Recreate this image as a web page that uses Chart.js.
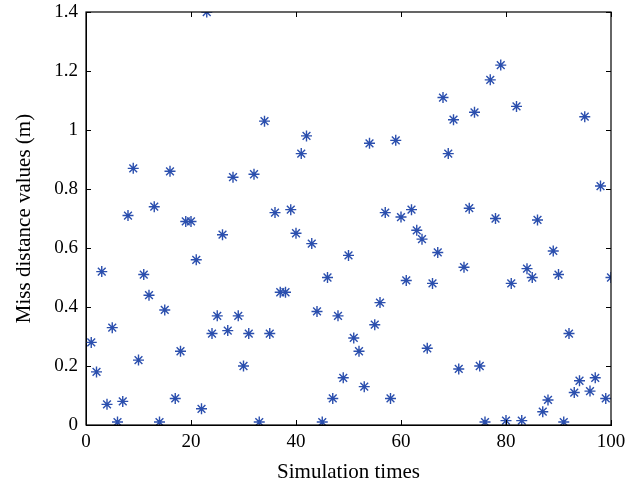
<!DOCTYPE html>
<html>
<head>
<meta charset="utf-8">
<script src="https://cdn.jsdelivr.net/npm/chart.js@4"></script>
<style>
  html, body { margin: 0; padding: 0; background: #fff; }
  #wrap { width: 639px; height: 485px; }
</style>
</head>
<body>
<div id="wrap"><canvas id="chart" width="639" height="485"></canvas></div>
<script>
// miss distance per simulation run (x = 1..100)
const runs = Array.from({ length: 100 }, (_, i) => i + 1);
const missDistance = [
  0.28, 0.18, 0.52, 0.07, 0.33, 0.01, 0.08, 0.71, 0.87, 0.22,
  0.51, 0.44, 0.74, 0.01, 0.39, 0.86, 0.09, 0.25, 0.69, 0.69,
  0.56, 0.055, 1.40, 0.31, 0.37, 0.645, 0.32, 0.84, 0.37, 0.20,
  0.31, 0.85, 0.01, 1.03, 0.31, 0.72, 0.45, 0.45, 0.73, 0.65,
  0.92, 0.98, 0.615, 0.385, 0.01, 0.50, 0.09, 0.37, 0.16, 0.575,
  0.295, 0.25, 0.13, 0.955, 0.34, 0.415, 0.72, 0.09, 0.965, 0.705,
  0.49, 0.73, 0.66, 0.63, 0.26, 0.48, 0.585, 1.11, 0.92, 1.035,
  0.19, 0.535, 0.735, 1.06, 0.20, 0.01, 1.17, 0.70, 1.22, 0.015,
  0.48, 1.08, 0.015, 0.53, 0.50, 0.695, 0.045, 0.085, 0.59, 0.51,
  0.01, 0.31, 0.11, 0.15, 1.045, 0.115, 0.16, 0.81, 0.09, 0.50
];
const xTicks = [0, 20, 40, 60, 80, 100];
const yTicks = [0, 0.2, 0.4, 0.6, 0.8, 1, 1.2, 1.4];

const font = "'Liberation Serif', 'Times New Roman', serif";

// MATLAB-style inward ticks on all four sides plus a closed box
const innerTicks = {
  id: 'innerTicks',
  afterDraw(chart) {
    const { ctx, chartArea: a, scales } = chart;
    const len = 5;
    ctx.save();
    ctx.strokeStyle = '#000';
    ctx.lineWidth = 1;
    ctx.beginPath();
    xTicks.forEach(v => {
      const px = Math.round(scales.x.getPixelForValue(v)) + 0.5;
      ctx.moveTo(px, a.bottom); ctx.lineTo(px, a.bottom - len);
      ctx.moveTo(px, a.top); ctx.lineTo(px, a.top + len);
    });
    yTicks.forEach(v => {
      const py = Math.round(scales.y.getPixelForValue(v)) + 0.5;
      ctx.moveTo(a.left, py); ctx.lineTo(a.left + len, py);
      ctx.moveTo(a.right, py); ctx.lineTo(a.right - len, py);
    });
    ctx.stroke();
    ctx.lineWidth = 1.2;
    ctx.strokeRect(a.left, a.top, a.right - a.left, a.bottom - a.top);
    ctx.restore();
  }
};

new Chart(document.getElementById('chart'), {
  type: 'scatter',
  data: {
    datasets: [{
      data: runs.map((r, i) => ({ x: r, y: missDistance[i] })),
      pointStyle: 'star',
      pointRadius: 5.5,
      pointBorderWidth: 1.4,
      borderColor: '#2b4fae',
      backgroundColor: '#2b4fae'
    }]
  },
  options: {
    responsive: false,
    animation: false,
    layout: { padding: { top: 12, right: 28, left: 8, bottom: 0 } },
    plugins: { legend: { display: false }, tooltip: { enabled: false } },
    scales: {
      x: {
        type: 'linear',
        min: 0,
        max: 100,
        afterBuildTicks: s => { s.ticks = xTicks.map(v => ({ value: v })); },
        afterFit: s => { s.height = 60; s.paddingLeft = 0; s.paddingRight = 0; },
        grid: { display: false, drawTicks: false },
        border: { display: true, color: '#000' },
        ticks: { color: '#000', padding: 6, maxRotation: 0, font: { family: font, size: 19 } },
        title: {
          display: true,
          text: 'Simulation times',
          color: '#000',
          padding: { top: 2, bottom: 0 },
          font: { family: font, size: 21 }
        }
      },
      y: {
        min: 0,
        max: 1.4,
        afterBuildTicks: s => { s.ticks = yTicks.map(v => ({ value: v })); },
        afterFit: s => { s.width = 78; s.paddingTop = 0; s.paddingBottom = 0; },
        grid: { display: false, drawTicks: false },
        border: { display: true, color: '#000' },
        ticks: {
          color: '#000',
          padding: 8,
          font: { family: font, size: 19 },
          callback: v => String(Math.round(v * 10) / 10)
        },
        title: {
          display: true,
          text: 'Miss distance values (m)',
          color: '#000',
          padding: { bottom: 0 },
          font: { family: font, size: 21 }
        }
      }
    }
  },
  plugins: [innerTicks]
});
</script>
</body>
</html>
